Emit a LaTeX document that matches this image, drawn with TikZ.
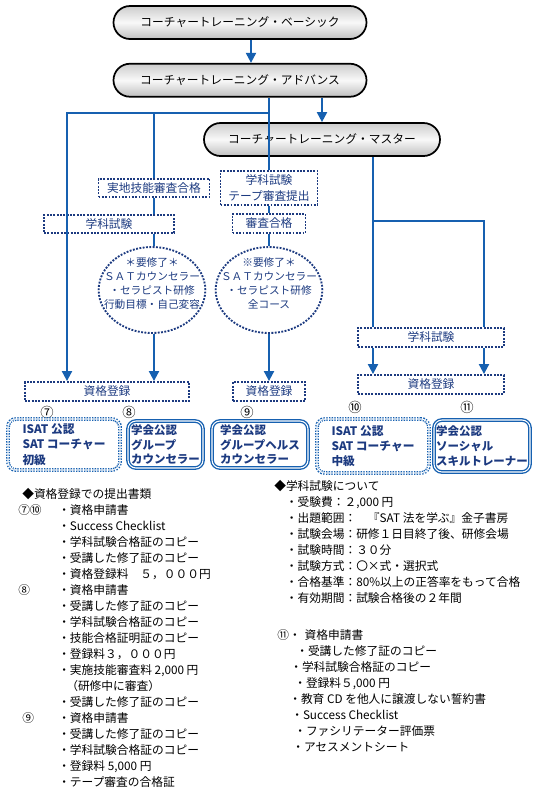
\documentclass[tikz,border=0pt]{standalone}
\usepackage{fontspec}
\setmainfont{Noto Sans CJK JP}
\usepackage{xcolor}
\usetikzlibrary{arrows.meta, shapes.geometric, shapes.misc, positioning}

\definecolor{lineblue}{RGB}{22,96,176}
\definecolor{navy}{RGB}{28,58,128}

\newcommand{\lbl}[1]{\makebox[30pt][l]{#1}}

\begin{document}
\begin{tikzpicture}[
  x=0.75pt, y=-0.75pt,
  course/.style = {
    rounded rectangle, draw=black, line width=1.3pt,
    top color=gray!40, bottom color=gray!50, middle color=gray!5,
    minimum height=24.75pt, inner sep=0pt,
    font=\fontsize{8.8pt}{10pt}\selectfont
  },
  cond/.style = {
    rectangle, draw=navy, line width=1.4pt, dash pattern=on 1.4pt off 1.1pt,
    text=navy, align=center, inner sep=0pt,
    font=\fontsize{8.8pt}{12pt}\selectfont
  },
  oval/.style = {
    ellipse, draw=navy, line width=1.4pt, dash pattern=on 1.4pt off 1.1pt,
    minimum width=80pt, minimum height=64.5pt, inner sep=0pt
  },
  ovaltext/.style = {
    text=navy, align=center, inner sep=0pt,
    font=\fontsize{8pt}{10.5pt}\selectfont
  },
  qual/.style = {
    rectangle, rounded corners=6pt,
    draw=lineblue, line width=1pt, double=white, double distance=0.8pt,
    text=navy, align=left, inner sep=0pt,
    font=\bfseries\fontsize{8.8pt}{11.5pt}\selectfont
  },
  qualdot/.style = {qual, dash pattern=on 1pt off 1pt, double distance=0.9pt},
  num/.style = {inner sep=0pt, font=\fontsize{10pt}{11pt}\selectfont},
  notes/.style = {
    align=left, anchor=north west, inner sep=0pt,
    font=\fontsize{8.8pt}{12pt}\selectfont
  },
  ln/.style = {line width=1.5pt, color=lineblue},
  arr/.style = {ln, -{Triangle[length=7.5pt, width=7.5pt]}}
]
\useasboundingbox (0,0) rectangle (535,794);

% Course ladder
\node[course, minimum width=189.75pt] (basic) at (240,22.5) {コーチャートレーニング・ベーシック};
\node[course, minimum width=189.75pt, below=17.25pt of basic] (adv) {コーチャートレーニング・アドバンス};
\node[course, minimum width=177pt] (master) at (322,139.5) {コーチャートレーニング・マスター};

% Conditions
\node[cond, minimum width=83.25pt, minimum height=13.5pt] (field) at (154,188) {実地技能審査合格};
\node[cond, minimum width=97.5pt, minimum height=13.5pt] (exam1) at (109,224) {学科試験};
\node[cond, minimum width=72.75pt, minimum height=25.5pt] (tape) at (269,188) {学科試験\\テープ審査提出};
\node[cond, minimum width=54.75pt, minimum height=14.25pt] (review) at (269,223.5) {審査合格};
\node[cond, minimum width=109.5pt, minimum height=14.25pt] (exam3) at (431,337.5) {学科試験};

% Required courses
\node[oval] (oval1) at (152,290) {};
\node[ovaltext] (oval1txt) at (152,283) {＊要修了＊\\ＳＡＴカウンセラー\\・セラピスト研修\\行動目標・自己変容};
\node[oval] (oval2) at (269,290) {};
\node[ovaltext] (oval2txt) at (269,283) {※要修了＊\\ＳＡＴカウンセラー\\・セラピスト研修\\全コース};

% Registration
\node[cond, minimum width=123pt, minimum height=14.25pt] (reg1) at (107,391.5) {資格登録};
\node[cond, minimum width=54pt, minimum height=14.25pt] (reg2) at (269,391.5) {資格登録};
\node[cond, minimum width=109.5pt, minimum height=14.25pt] (reg3) at (431,384.5) {資格登録};

% Qualifications
\node[num] (n7) at (47,412) {⑦};
\node[num] (n8) at (129,412) {⑧};
\node[num] (n9) at (247,412) {⑨};
\node[num] (n10) at (355,407) {⑩};
\node[num] (n11) at (467,407) {⑪};
\node[qualdot, minimum width=84pt, minimum height=38.25pt] (q7) at (64,444.5) {ISAT 公認\\SAT コーチャー\\初級};
\node[qual, minimum width=56.25pt, minimum height=35.25pt, font=\bfseries\fontsize{8.6pt}{11pt}\selectfont] (q8) at (165.5,444.5) {学会公認\\グループ\\カウンセラー};
\node[qual, minimum width=72pt, minimum height=35.25pt, font=\bfseries\fontsize{8.6pt}{11pt}\selectfont] (q9) at (260,444.5) {学会公認\\グループヘルス\\カウンセラー};
\node[qualdot, minimum width=84pt, minimum height=40.5pt] (q10) at (373,446) {ISAT 公認\\SAT コーチャー\\中級};
\node[qual, minimum width=72pt, minimum height=39pt, font=\bfseries\fontsize{8.6pt}{11.5pt}\selectfont] (q11) at (482,446) {学会公認\\ソーシャル\\スキルトレーナー};

% Connectors
\coordinate (splitL) at (67,113);
\coordinate (splitM) at (154,113);
\coordinate (splitR) at (373,221);
\coordinate (splitRR) at (484,221);

\draw[arr] ([xshift=8.25pt]basic.south) -- ([xshift=8.25pt]adv.north);
\draw[arr] (adv.south -| master.north) -- (master.north);
\draw[ln] (adv.south -| tape.north) -- (tape.north);

% left branch
\draw[arr] (tape.north |- splitL) -- (splitL) -- (splitL |- reg1.north);
\draw[ln] (splitM) -- (field.north);
\draw[ln] (field.south) -- (field.south |- exam1.north);
\draw[ln] (exam1.south -| field.south) -- (oval1.north -| field.south);
\draw[arr] (oval1.south -| field.south) -- (reg1.north -| field.south);

% middle branch
\draw[ln] (tape) -- (review);
\draw[ln] (review) -- (oval2);
\draw[arr] (oval2) -- (reg2);

% right branch
\draw[ln] (master.south -| splitR) -- (splitR |- exam3.north);
\draw[ln] (splitR) -- (splitRR) -- (splitRR |- exam3.north);
\draw[arr] (exam3.south -| splitR) -- (reg3.north -| splitR);
\draw[arr] (exam3.south -| splitRR) -- (reg3.north -| splitRR);

% Notes
\node[notes] (docs) at (18,488) {%
\hspace*{3pt}◆資格登録での提出書類\\
\lbl{⑦⑩}・資格申請書\\
\lbl{}・Success Checklist\\
\lbl{}・学科試験合格証のコピー\\
\lbl{}・受講した修了証のコピー\\
\lbl{}・資格登録料　５，０００円\\
\lbl{⑧}・資格申請書\\
\lbl{}・受講した修了証のコピー\\
\lbl{}・学科試験合格証のコピー\\
\lbl{}・技能合格証明証のコピー\\
\lbl{}・登録料３，０００円\\
\lbl{}・実施技能審査料 2,000 円\\
\lbl{}\hspace*{6pt}（研修中に審査）\\
\lbl{}・受講した修了証のコピー\\
\lbl{\hspace*{3pt}⑨}・資格申請書\\
\lbl{}・受講した修了証のコピー\\
\lbl{}・学科試験合格証のコピー\\
\lbl{}・登録料 5,000 円\\
\lbl{}・テープ審査の合格証};

\node[notes] (exam) at (274,480) {%
◆学科試験について\\
\hspace*{8.7pt}・受験費：２,000 円\\
\hspace*{8.7pt}・出題範囲：　『SAT 法を学ぶ』金子書房\\
\hspace*{8.7pt}・試験会場：研修１日目終了後、研修会場\\
\hspace*{8.7pt}・試験時間：３０分\\
\hspace*{8.7pt}・試験方式：〇×式・選択式\\
\hspace*{8.7pt}・合格基準：80\%以上の正答率をもって合格\\
\hspace*{8.7pt}・有効期間：試験合格後の２年間};

\node[notes] (docs11) at (277,629) {%
⑪・\hspace{3pt}資格申請書\\
\hspace*{14.25pt}・受講した修了証のコピー\\
\hspace*{9.75pt}・学科試験合格証のコピー\\
\hspace*{12.75pt}・登録料５,000 円\\
\hspace*{9pt}・教育 CD を他人に譲渡しない誓約書\\
\hspace*{10.5pt}・Success Checklist\\
\hspace*{12.75pt}・ファシリテーター評価票\\
\hspace*{11.25pt}・アセスメントシート};
\end{tikzpicture}
\end{document}
